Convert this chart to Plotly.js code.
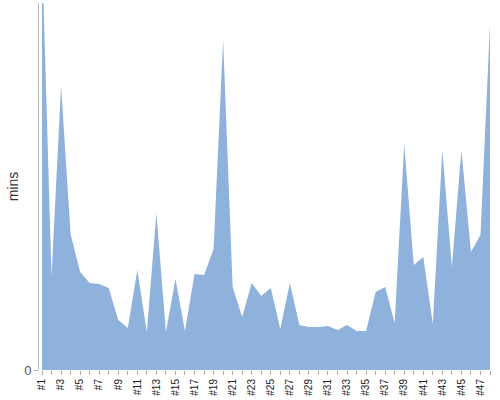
<!DOCTYPE html>
<html><head><meta charset="utf-8">
<script src="https://cdn.plot.ly/plotly-3.0.1.min.js"></script>
<style>body{margin:0;background:#fff}</style>
</head><body>
<div id="chart" style="width:500px;height:400px"></div>
<script>
const categories = ["#1","#2","#3","#4","#5","#6","#7","#8","#9","#10","#11","#12","#13","#14","#15","#16","#17","#18","#19","#20","#21","#22","#23","#24","#25","#26","#27","#28","#29","#30","#31","#32","#33","#34","#35","#36","#37","#38","#39","#40","#41","#42","#43","#44","#45","#46","#47","#48"];
const mins = [420,94,284,136,98,87,86,82,50,42,100,38,157,38,91,39,96,95,121,330,83,53,87,74,82,41,87,45,43,43,44,40,45,39,39,78,83,47,226,105,113,46,220,103,220,118,135,346];
const tickLabels = categories.map((c, i) => i % 2 === 0 ? c : "");
const yTitle = "mins";

Plotly.newPlot("chart", [{
  x: categories,
  y: mins,
  type: "scatter",
  mode: "lines",
  fill: "tozeroy",
  fillcolor: "rgb(143,178,220)",
  line: {width: 0, color: "rgb(143,178,220)"},
  hoverinfo: "x+y"
}], {
  width: 500, height: 400,
  margin: {l: 39, r: 10, t: 3, b: 30},
  paper_bgcolor: "#fff", plot_bgcolor: "#fff",
  showlegend: false,
  font: {family: "Liberation Sans, Arial, sans-serif"},
  xaxis: {
    type: "category",
    range: [-0.315, 47],
    tickmode: "array",
    tickvals: categories,
    ticktext: tickLabels,
    tickangle: -90,
    ticks: "outside", ticklen: 4, tickcolor: "#aaa",
    tickfont: {size: 10, color: "#222"},
    showline: false, showgrid: false, zeroline: false
  },
  yaxis: {
    range: [0, 367],
    tickmode: "array", tickvals: [0], ticktext: ["0"],
    ticks: "outside", ticklen: 4, tickcolor: "#aaa",
    tickfont: {size: 13, color: "#555"},
    showline: true, linecolor: "#bbb", linewidth: 1,
    showgrid: false, zeroline: false
  },
  annotations: [{
    text: yTitle, xref: "paper", yref: "paper",
    x: -0.058, y: 0.5, xanchor: "center", yanchor: "middle",
    textangle: -90, showarrow: false,
    font: {size: 14, color: "#333"}
  }]
}, {displayModeBar: false, staticPlot: true});
</script>
</body></html>
